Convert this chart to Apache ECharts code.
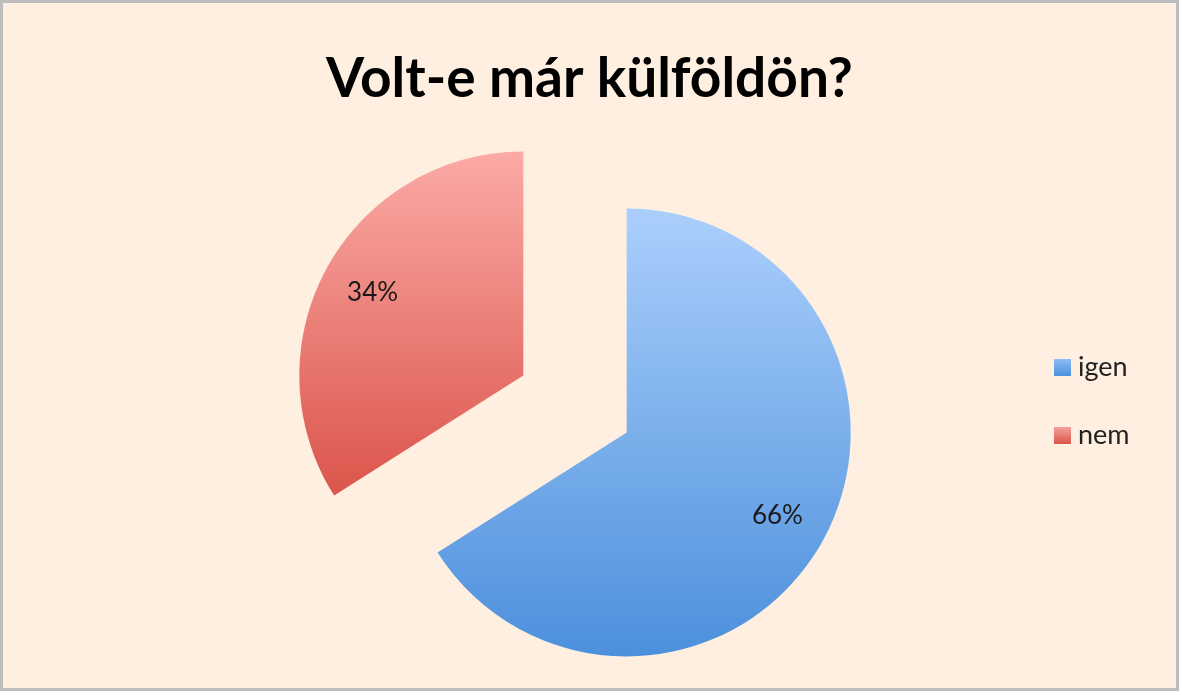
<!DOCTYPE html>
<html>
<head>
<meta charset="utf-8">
<script src="https://cdn.jsdelivr.net/npm/echarts@6/dist/echarts.min.js"></script>
<style>
html,body{margin:0;padding:0;background:#ffffff;}
#c{position:absolute;left:0;top:0;width:1179px;height:691px;box-sizing:border-box;border:3px solid #bdbdbd;background:#feefe1;}
</style>
</head>
<body>
<div id="c"></div>
<script>
const categories = ['igen', 'nem'];
const values = [66, 34];
const titleText = 'Volt-e már külföldön?';

const gradients = [
  new echarts.graphic.LinearGradient(0, 0, 0, 1, [{offset:0,color:'#abcffc'},{offset:1,color:'#4c90dc'}]),
  new echarts.graphic.LinearGradient(0, 0, 0, 1, [{offset:0,color:'#fbaaa6'},{offset:1,color:'#db554b'}])
];
const legendColors = [
  new echarts.graphic.LinearGradient(0, 0, 0, 1, [{offset:0,color:'#8dbdf3'},{offset:1,color:'#4c90dc'}]),
  new echarts.graphic.LinearGradient(0, 0, 0, 1, [{offset:0,color:'#f5a09b'},{offset:1,color:'#db554b'}])
];

const chart = echarts.init(document.getElementById('c'), null, {renderer:'canvas'});
const center = [572, 401];
chart.setOption({
  animation: false,
  title: {
    text: titleText,
    left: 'center',
    top: 44,
    textStyle: {fontFamily: 'Lato', fontWeight: 'bold', fontSize: 55, color: '#000'}
  },
  legend: {
    orient: 'vertical',
    left: 1046,
    top: 346,
    itemWidth: 17,
    itemHeight: 17,
    itemGap: 41,
    icon: 'rect',
    data: categories.map((c, i) => ({name: c, itemStyle: {color: legendColors[i]}})),
    textStyle: {fontFamily: 'Lato', fontSize: 27, color: '#222', padding:[0,0,0,2]}
  },
  series: [
    {
      type: 'pie',
      center: center,
      radius: [0, 224],
      startAngle: 90,
      clockwise: true,
      selectedMode: 'multiple',
      selectedOffset: 59,
      silent: true,
      label: {show: false},
      labelLine: {show: false},
      data: categories.map((c, i) => ({name: c, value: values[i], selected: true, itemStyle: {color: gradients[i]}}))
    },
    {
      type: 'pie',
      center: center,
      radius: [0, 338],
      startAngle: 90,
      clockwise: true,
      selectedMode: 'multiple',
      selectedOffset: 59,
      silent: true,
      legendHoverLink: false,
      itemStyle: {color: 'rgba(0,0,0,0)'},
      label: {show: true, position: 'inside', formatter: '{c}%', fontFamily: 'Lato', fontSize: 26, color: '#1a1a1a', padding:[18,0,0,0]},
      labelLine: {show: false},
      data: categories.map((c, i) => ({name: c, value: values[i], selected: true, itemStyle: {color: 'rgba(0,0,0,0)'}}))
    }
  ]
});
</script>
</body>
</html>
